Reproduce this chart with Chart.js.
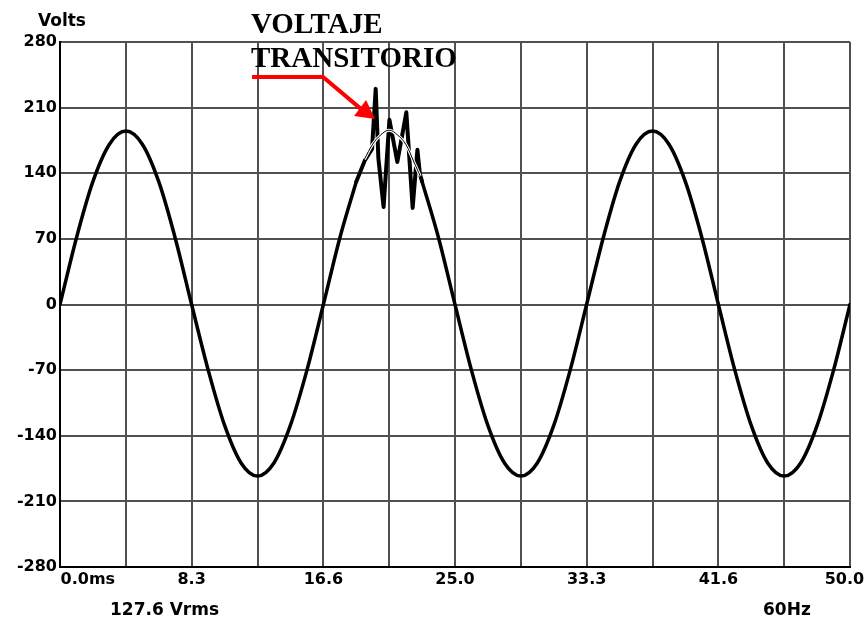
<!DOCTYPE html>
<html>
<head>
<meta charset="utf-8">
<script src="https://cdn.jsdelivr.net/npm/chart.js@4/dist/chart.umd.min.js"></script>
<style>
  html, body { margin: 0; padding: 0; background: #fff; }
</style>
</head>
<body>
<canvas id="graficoVoltaje" width="865" height="620"></canvas>
<script>
// Onda de voltaje (ms, V); el hueco (null) es donde va el transitorio
const tiempoMs = [0, 1.04, 2.08, 3.13, 4.17, 5.21, 6.25, 7.29, 8.33, 9.38, 10.42, 11.46, 12.50, 13.54, 14.58, 15.63,
  16.67, 17.71, 18.75, 20.80, 22.92, 23.96, 25.00, 26.04, 27.08, 28.13, 29.17, 30.21, 31.25, 32.29,
  33.33, 34.38, 35.42, 36.46, 37.50, 38.54, 39.58, 40.63, 41.67, 42.71, 43.75, 44.79, 45.83, 46.88, 47.92, 48.96, 50.00];
const voltios = [0, 71, 131, 171, 185, 171, 131, 71, 0, -70, -129, -169, -183, -169, -129, -70,
  0, 71, 131, null, 131, 71, 0, -70, -129, -169, -183, -169, -129, -70,
  0, 71, 131, 171, 185, 171, 131, 71, 0, -70, -129, -169, -183, -169, -129, -70, 0];

// Tramo del transitorio (líneas rectas)
const tiempoTransMs = [18.75, 19.30, 19.75, 19.98, 20.15, 20.48, 20.85, 21.35, 21.92, 22.32, 22.62, 22.78, 22.92];
const voltiosTrans = [131, 154, 166, 230, 156, 104, 197, 152, 205, 103, 165, 139, 131];

// Onda ideal (línea fina) en la zona del transitorio
const tiempoIdealMs = [19.27, 19.79, 20.31, 20.83, 21.35, 21.88, 22.40, 22.80];
const voltiosIdeal = [155, 171, 181, 186, 181, 171, 152, 137];

// Rejilla y etiquetas de los ejes
const rejillaX = [0, 4.17, 8.33, 12.5, 16.67, 20.83, 25, 29.17, 33.33, 37.5, 41.67, 45.83, 50];
const etiquetasX = ['          0.0ms', '', '8.3', '', '16.6', '', '25.0', '', '33.3', '', '41.6', '', '50.0  '];
const rejillaY = [-280, -210, -140, -70, 0, 70, 140, 210, 280];

const puntos = (xs, ys) => xs.map((t, i) => ({ x: t, y: ys[i] }));

const anotaciones = {
  id: 'anotaciones',
  afterDraw(chart) {
    const { ctx, scales: { x, y } } = chart;
    ctx.save();
    ctx.fillStyle = '#000';
    ctx.textBaseline = 'alphabetic';
    ctx.font = 'bold 17px "DejaVu Sans"';
    ctx.fillText('Volts', 38, 26);
    ctx.fillText('127.6 Vrms', 110, 615);
    ctx.fillText('60Hz', 763, 615);

    ctx.font = 'bold 29px "Liberation Serif"';
    ctx.fillText('VOLTAJE', 251, 33);
    ctx.fillText('TRANSITORIO', 251, 67);

    // flecha roja apuntando al pico del transitorio
    const px = x.getPixelForValue(19.94);
    const py = y.getPixelForValue(198);
    const bx = px - 15, by = py - 11;
    ctx.strokeStyle = '#ff0000';
    ctx.fillStyle = '#ff0000';
    ctx.lineWidth = 4;
    ctx.beginPath();
    ctx.moveTo(px - 123, py - 42);
    ctx.lineTo(px - 52, py - 42);
    ctx.lineTo(bx + 2, by + 2);
    ctx.stroke();
    ctx.beginPath();
    ctx.moveTo(px, py);
    ctx.lineTo(bx - 6, by + 8);
    ctx.lineTo(bx + 6, by - 8);
    ctx.closePath();
    ctx.fill();
    ctx.restore();
  }
};

new Chart(document.getElementById('graficoVoltaje'), {
  type: 'line',
  data: {
    datasets: [
      {
        label: 'Ideal',
        data: puntos(tiempoIdealMs, voltiosIdeal),
        borderColor: '#000',
        borderWidth: 1,
        tension: 0.4,
        pointRadius: 0,
        order: 0
      },
      {
        label: 'Ideal borde',
        data: puntos(tiempoIdealMs, voltiosIdeal),
        borderColor: '#fff',
        borderWidth: 3,
        tension: 0.4,
        pointRadius: 0,
        order: 1
      },
      {
        label: 'Transitorio',
        data: puntos(tiempoTransMs, voltiosTrans),
        borderColor: '#000',
        borderWidth: 4,
        borderJoinStyle: 'round',
        borderCapStyle: 'round',
        tension: 0,
        pointRadius: 0,
        order: 2
      },
      {
        label: 'Voltaje',
        data: puntos(tiempoMs, voltios),
        borderColor: '#000',
        borderWidth: 3.5,
        borderCapStyle: 'round',
        cubicInterpolationMode: 'monotone',
        spanGaps: false,
        pointRadius: 0,
        order: 3
      }
    ]
  },
  options: {
    responsive: false,
    animation: false,
    layout: { padding: { left: 0, right: 15, top: 42, bottom: 0 } },
    plugins: {
      legend: { display: false },
      tooltip: { enabled: false }
    },
    scales: {
      x: {
        type: 'linear',
        min: 0,
        max: 50,
        afterBuildTicks: (scale) => { scale.ticks = rejillaX.map(v => ({ value: v })); },
        afterFit: (scale) => { scale.height = 53; scale.paddingLeft = 0; scale.paddingRight = 0; },
        grid: { color: '#505050', lineWidth: 2, drawTicks: false },
        border: { color: '#000', width: 2 },
        ticks: {
          autoSkip: false,
          maxRotation: 0,
          padding: 3,
          color: '#000',
          font: { family: 'DejaVu Sans', size: 16, weight: 'bold' },
          callback: (value, index) => etiquetasX[index]
        }
      },
      y: {
        min: -280,
        max: 280,
        afterBuildTicks: (scale) => { scale.ticks = rejillaY.map(v => ({ value: v })); },
        afterFit: (scale) => { scale.width = 60; },
        grid: { color: '#505050', lineWidth: 2, drawTicks: false },
        border: { color: '#000', width: 2 },
        ticks: {
          padding: 3,
          color: '#000',
          font: { family: 'DejaVu Sans', size: 16, weight: 'bold' },
          callback: (value) => String(value)
        }
      }
    }
  },
  plugins: [anotaciones]
});
</script>
</body>
</html>
